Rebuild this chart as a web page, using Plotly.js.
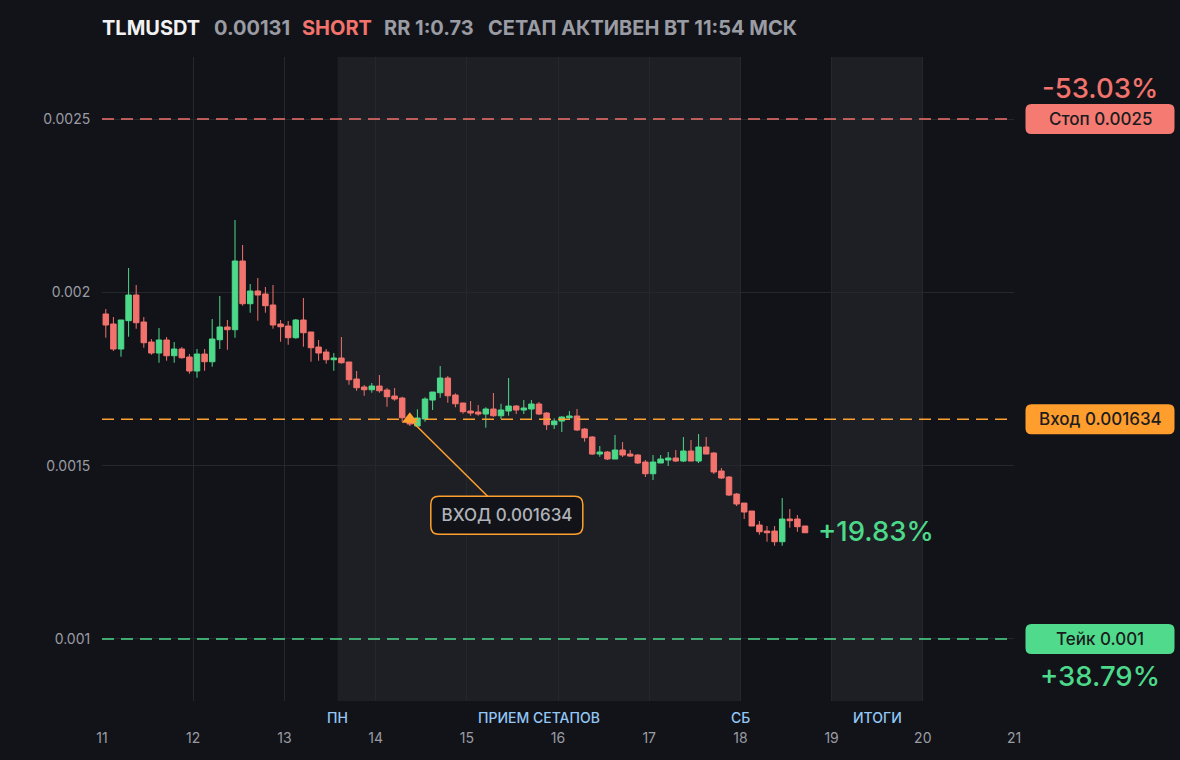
<!DOCTYPE html>
<html>
<head>
<meta charset="utf-8">
<script src="https://cdn.plot.ly/plotly-3.0.1.min.js"></script>
<style>
  html, body { margin: 0; padding: 0; background: #121318; }
  #chart { width: 1180px; height: 760px; }
</style>
</head>
<body>
<div id="chart"></div>
<script>
// ---------------- DATA ----------------
const symbol = 'TLMUSDT';
const lastPriceText = '0.00131';
const sideText = 'SHORT';
const rrText = 'RR 1:0.73';
const statusText = 'СЕТАП АКТИВЕН ВТ 11:54 МСК';

const stopPrice = 0.0025;
const entryPrice = 0.001634;
const takePrice = 0.001;
const lastPrice = 0.00131;

const stopLabel = 'Стоп 0.0025';
const entryLabel = 'Вход 0.001634';
const takeLabel = 'Тейк 0.001';
const stopPctText = '-53.03%';
const takePctText = '+38.79%';
const currentPctText = '+19.83%';
const entryNoteText = 'ВХОД 0.001634';

// 2-hour candles, first candle centred at day 11 01:00
const candleStartDay = 11 + 1 / 24;
const candleStepDays = 2 / 24;
const entryCandleIndex = 40;

const open = [
  0.0019374, 0.0019085, 0.0018364, 0.0019181, 0.0019922, 0.0019143, 0.0018566, 0.0018248, 0.0018624, 0.0018170,
  0.0018364, 0.0018133, 0.0017729, 0.0018219, 0.0017997, 0.0018632, 0.0018999, 0.0018921, 0.0020903, 0.0019671,
  0.0020038, 0.0019951, 0.0019634, 0.0019085, 0.0019028, 0.0018690, 0.0019201, 0.0018855, 0.0018421, 0.0018277,
  0.0018055, 0.0018104, 0.0017989, 0.0017498, 0.0017268, 0.0017189, 0.0017296, 0.0017181, 0.0017008, 0.0016950,
  0.0016382, 0.0016142, 0.0016344, 0.0016892, 0.0017103, 0.0017527, 0.0017036, 0.0016806, 0.0016575, 0.0016546,
  0.0016488, 0.0016633, 0.0016439, 0.0016575, 0.0016719, 0.0016604, 0.0016633, 0.0016777, 0.0016517, 0.0016180,
  0.0016286, 0.0016382, 0.0016431, 0.0016056, 0.0015825, 0.0015334, 0.0015392, 0.0015190, 0.0015450, 0.0015334,
  0.0015305, 0.0015103, 0.0014766, 0.0015075, 0.0015161, 0.0015219, 0.0015132, 0.0015421, 0.0015132, 0.0015536,
  0.0015363, 0.0014844, 0.0014671, 0.0014180, 0.0013920, 0.0013690, 0.0013286, 0.0013112, 0.0013112, 0.0012804,
  0.0013459, 0.0013459, 0.0013257
];
const high = [
  0.0019518, 0.0019287, 0.0019201, 0.0020701, 0.0020211, 0.0019287, 0.0018653, 0.0018970, 0.0018710, 0.0018566,
  0.0018421, 0.0018219, 0.0018364, 0.0018364, 0.0019230, 0.0019893, 0.0019201, 0.0022086, 0.0021365, 0.0020239,
  0.0020413, 0.0020153, 0.0020211, 0.0019201, 0.0019172, 0.0019230, 0.0019836, 0.0018855, 0.0018624, 0.0018364,
  0.0018248, 0.0018710, 0.0017989, 0.0017729, 0.0017325, 0.0017383, 0.0017613, 0.0017238, 0.0017238, 0.0016987,
  0.0016431, 0.0016624, 0.0016970, 0.0017123, 0.0017873, 0.0017585, 0.0017085, 0.0016814, 0.0016863, 0.0016748,
  0.0016682, 0.0017094, 0.0016785, 0.0017527, 0.0016748, 0.0016892, 0.0016892, 0.0016834, 0.0016546, 0.0016364,
  0.0016422, 0.0016575, 0.0016633, 0.0016084, 0.0015854, 0.0015565, 0.0015421, 0.0015882, 0.0015680, 0.0015450,
  0.0015334, 0.0015161, 0.0015305, 0.0015305, 0.0015392, 0.0015450, 0.0015825, 0.0015738, 0.0015911, 0.0015825,
  0.0015392, 0.0014930, 0.0014699, 0.0014209, 0.0013920, 0.0013690, 0.0013401, 0.0013257, 0.0013257, 0.0014065,
  0.0013747, 0.0013574, 0.0013257
];
const low = [
  0.0018690, 0.0018306, 0.0018142, 0.0018719, 0.0018950, 0.0018401, 0.0018199, 0.0017968, 0.0018026, 0.0017968,
  0.0018084, 0.0017651, 0.0017536, 0.0017737, 0.0017853, 0.0018364, 0.0018343, 0.0018690, 0.0019613, 0.0019411,
  0.0019181, 0.0019411, 0.0018950, 0.0018575, 0.0018488, 0.0018661, 0.0018430, 0.0017997, 0.0018026, 0.0017940,
  0.0017737, 0.0017940, 0.0017334, 0.0017160, 0.0017016, 0.0017103, 0.0017103, 0.0016699, 0.0016872, 0.0016266,
  0.0016142, 0.0016142, 0.0016266, 0.0016604, 0.0016958, 0.0016814, 0.0016682, 0.0016497, 0.0016439, 0.0016439,
  0.0016093, 0.0016410, 0.0016344, 0.0016439, 0.0016488, 0.0016488, 0.0016344, 0.0016459, 0.0016027, 0.0016056,
  0.0015969, 0.0016344, 0.0015998, 0.0015689, 0.0015305, 0.0015256, 0.0015161, 0.0015190, 0.0015248, 0.0015248,
  0.0015046, 0.0014671, 0.0014584, 0.0015075, 0.0014988, 0.0015103, 0.0015103, 0.0015132, 0.0015075, 0.0015334,
  0.0014757, 0.0014613, 0.0014122, 0.0013834, 0.0013459, 0.0013257, 0.0013006, 0.0012804, 0.0012688, 0.0012688,
  0.0013208, 0.0013092, 0.0013063
];
const close = [
  0.0019057, 0.0018364, 0.0019201, 0.0019922, 0.0019123, 0.0018546, 0.0018248, 0.0018624, 0.0018170, 0.0018364,
  0.0018113, 0.0017729, 0.0018219, 0.0017997, 0.0018653, 0.0018999, 0.0018921, 0.0020903, 0.0019671, 0.0020038,
  0.0019922, 0.0019613, 0.0019057, 0.0019007, 0.0018690, 0.0019201, 0.0018834, 0.0018401, 0.0018248, 0.0018055,
  0.0018104, 0.0017968, 0.0017478, 0.0017247, 0.0017189, 0.0017296, 0.0017160, 0.0016987, 0.0016921, 0.0016382,
  0.0016200, 0.0016373, 0.0016921, 0.0017123, 0.0017527, 0.0017016, 0.0016785, 0.0016555, 0.0016517, 0.0016488,
  0.0016633, 0.0016439, 0.0016604, 0.0016719, 0.0016604, 0.0016662, 0.0016777, 0.0016488, 0.0016180, 0.0016286,
  0.0016402, 0.0016431, 0.0016027, 0.0015805, 0.0015334, 0.0015392, 0.0015190, 0.0015450, 0.0015305, 0.0015276,
  0.0015075, 0.0014766, 0.0015103, 0.0015190, 0.0015219, 0.0015132, 0.0015421, 0.0015132, 0.0015536, 0.0015334,
  0.0014815, 0.0014642, 0.0014151, 0.0013892, 0.0013661, 0.0013257, 0.0013092, 0.0013063, 0.0012804, 0.0013459,
  0.0013410, 0.0013237, 0.0013063
];

// session zones (days)
const setupZoneStart = 13 + 14 / 24;
const setupZoneEnd = 18;
const resultZoneStart = 19;
const resultZoneEnd = 20;
const zoneLabels = ['ПН', 'ПРИЕМ СЕТАПОВ', 'СБ', 'ИТОГИ'];
const zoneLabelDays = [setupZoneStart, (setupZoneStart + setupZoneEnd) / 2, setupZoneEnd, (resultZoneStart + resultZoneEnd) / 2];

const xTickVals = [11, 12, 13, 14, 15, 16, 17, 18, 19, 20, 21];
const xTickText = ['11', '12', '13', '14', '15', '16', '17', '18', '19', '20', '21'];
const yTickVals = [0.001, 0.0015, 0.002, 0.0025];
const yTickText = ['0.001', '0.0015', '0.002', '0.0025'];

// ---------------- STYLE ----------------
const BG = '#121318';
const ZONE = '#1e1f25';
const GRID = '#26272d';
const GREEN = '#4cd98a';
const RED = '#f2736d';
const ORANGE = '#ffa030';
const GRAY = '#9a9ca4';
const BLUE = '#92c8f6';
const FONT = 'Inter, "Noto Sans", sans-serif';

const times = open.map((_, i) => candleStartDay + i * candleStepDays);
const yRange = [0.0008209, 0.0026789];
const toPaperY = v => (v - yRange[0]) / (yRange[1] - yRange[0]);
const rightBoxX = 1.0943;

function roundRect(cx, cy, w, h, r) {
  const x0 = cx - w / 2, x1 = cx + w / 2, y0 = cy - h / 2, y1 = cy + h / 2;
  return `M ${x0 + r},${y0} L ${x1 - r},${y0} Q ${x1},${y0} ${x1},${y0 + r} L ${x1},${y1 - r} Q ${x1},${y1} ${x1 - r},${y1} ` +
         `L ${x0 + r},${y1} Q ${x0},${y1} ${x0},${y1 - r} L ${x0},${y0 + r} Q ${x0},${y0} ${x0 + r},${y0} Z`;
}

const traces = [
  {
    type: 'candlestick',
    x: times, open: open, high: high, low: low, close: close,
    increasing: { line: { color: GREEN, width: 1 }, fillcolor: GREEN },
    decreasing: { line: { color: RED, width: 1 }, fillcolor: RED },
    whiskerwidth: 0,
    hoverinfo: 'skip',
    showlegend: false
  },
  {
    type: 'scatter', mode: 'markers',
    x: [times[entryCandleIndex]], y: [entryPrice],
    marker: { symbol: 'triangle-up', size: 14, color: ORANGE, line: { width: 0 } },
    hoverinfo: 'skip', showlegend: false
  }
];

const shapes = [
  { type: 'rect', xref: 'x', yref: 'paper', x0: setupZoneStart, x1: setupZoneEnd, y0: 0, y1: 1, fillcolor: ZONE, line: { width: 0 }, layer: 'below' },
  { type: 'rect', xref: 'x', yref: 'paper', x0: resultZoneStart, x1: resultZoneEnd, y0: 0, y1: 1, fillcolor: ZONE, line: { width: 0 }, layer: 'below' },
  { type: 'line', xref: 'paper', yref: 'y', x0: 0, x1: 1, y0: stopPrice, y1: stopPrice, line: { color: RED, width: 1.5, dash: '12px,7px' } },
  { type: 'line', xref: 'paper', yref: 'y', x0: 0, x1: 1, y0: entryPrice, y1: entryPrice, line: { color: ORANGE, width: 1.5, dash: '12px,7px' } },
  { type: 'line', xref: 'paper', yref: 'y', x0: 0, x1: 1, y0: takePrice, y1: takePrice, line: { color: GREEN, width: 1.5, dash: '12px,7px' } },
  // right-side price boxes
  { type: 'path', xref: 'paper', yref: 'paper', xsizemode: 'pixel', ysizemode: 'pixel', xanchor: rightBoxX, yanchor: toPaperY(stopPrice),
    path: roundRect(0, 0, 149, 30, 6), fillcolor: '#f47a72', line: { width: 0 } },
  { type: 'path', xref: 'paper', yref: 'paper', xsizemode: 'pixel', ysizemode: 'pixel', xanchor: rightBoxX, yanchor: toPaperY(entryPrice),
    path: roundRect(0, 0, 149, 30, 6), fillcolor: '#ff9e2c', line: { width: 0 } },
  { type: 'path', xref: 'paper', yref: 'paper', xsizemode: 'pixel', ysizemode: 'pixel', xanchor: rightBoxX, yanchor: toPaperY(takePrice),
    path: roundRect(0, 0, 149, 30, 6), fillcolor: '#4fdb8b', line: { width: 0 } },
  // entry note box
  { type: 'path', xref: 'x', yref: 'y', xsizemode: 'pixel', ysizemode: 'pixel', xanchor: times[entryCandleIndex], yanchor: entryPrice,
    path: roundRect(97, -96, 152, 38, 8), fillcolor: BG, line: { color: ORANGE, width: 1.5 }, layer: 'above' }
];

const titleParts = [
  { text: '<b>' + symbol + '</b>', px: 102, color: '#f2f2f4' },
  { text: '<b>' + lastPriceText + '</b>', px: 214, color: GRAY },
  { text: '<b>' + sideText + '</b>', px: 302, color: RED },
  { text: '<b>' + rrText + '</b>', px: 384, color: GRAY },
  { text: '<b>' + statusText + '</b>', px: 488, color: GRAY }
];

const annotations = [];
titleParts.forEach(p => annotations.push({
  xref: 'paper', yref: 'paper', x: (p.px - 102) / 912, y: 1, xshift: -2, yshift: 29, xanchor: 'left', yanchor: 'middle',
  text: p.text, showarrow: false, font: { family: FONT, size: 20, color: p.color }
}));

zoneLabels.forEach((t, i) => annotations.push({
  xref: 'x', yref: 'paper', x: zoneLabelDays[i], y: 0, yshift: -16, xanchor: 'center', yanchor: 'middle',
  text: t, showarrow: false, font: { family: FONT, size: 14, color: BLUE, weight: 500 }
}));

const boxText = (label, price) => ({
  xref: 'paper', yref: 'paper', x: rightBoxX, y: toPaperY(price), xanchor: 'center', yanchor: 'middle',
  text: label, showarrow: false, font: { family: FONT, size: 17, color: '#1b1c20', weight: 500 }
});
annotations.push(boxText(stopLabel, stopPrice));
annotations.push(boxText(entryLabel, entryPrice));
annotations.push(boxText(takeLabel, takePrice));

annotations.push({
  xref: 'paper', yref: 'paper', x: rightBoxX, y: toPaperY(stopPrice), yshift: 31, xanchor: 'center', yanchor: 'middle',
  text: stopPctText, showarrow: false, font: { family: FONT, size: 27.5, color: RED, weight: 500 }
});
annotations.push({
  xref: 'paper', yref: 'paper', x: rightBoxX, y: toPaperY(takePrice), yshift: -37, xanchor: 'center', yanchor: 'middle',
  text: takePctText, showarrow: false, font: { family: FONT, size: 27.5, color: GREEN, weight: 500 }
});
annotations.push({
  xref: 'x', yref: 'y', x: times[times.length - 1], y: lastPrice, xshift: 11, xanchor: 'left', yanchor: 'middle',
  text: currentPctText, showarrow: false, font: { family: FONT, size: 27.5, color: GREEN, weight: 500 }
});
annotations.push({
  xref: 'x', yref: 'y', x: times[entryCandleIndex], y: entryPrice,
  ax: 97, ay: 96, axref: 'pixel', ayref: 'pixel',
  showarrow: true, arrowhead: 0, arrowwidth: 1.5, arrowcolor: ORANGE,
  text: entryNoteText, font: { family: FONT, size: 17, color: '#b0b3ba', weight: 500 },
  width: 140, height: 26, borderpad: 5, borderwidth: 1, bordercolor: 'rgba(0,0,0,0)', bgcolor: 'rgba(0,0,0,0)'
});

const layout = {
  width: 1180, height: 760,
  paper_bgcolor: BG, plot_bgcolor: BG,
  margin: { l: 102, r: 166, t: 57, b: 59 },
  font: { family: FONT, color: GRAY },
  showlegend: false,
  boxgap: 0.15, boxgroupgap: 0.15,
  xaxis: {
    type: 'linear', range: [11, 21], tickvals: xTickVals, ticktext: xTickText,
    showgrid: true, gridcolor: GRID, gridwidth: 1, zeroline: false, showline: false,
    ticks: 'outside', ticklen: 24, tickcolor: 'rgba(0,0,0,0)',
    tickfont: { family: FONT, size: 14, color: GRAY },
    rangeslider: { visible: false }, fixedrange: true
  },
  yaxis: {
    range: yRange, tickvals: yTickVals, ticktext: yTickText,
    showgrid: true, gridcolor: GRID, gridwidth: 1, zeroline: false, showline: false,
    ticks: 'outside', ticklen: 8, tickcolor: 'rgba(0,0,0,0)',
    tickfont: { family: FONT, size: 14, color: GRAY }, fixedrange: true
  },
  shapes: shapes,
  annotations: annotations
};

Plotly.newPlot('chart', traces, layout, { displayModeBar: false, staticPlot: true });
</script>
</body>
</html>
